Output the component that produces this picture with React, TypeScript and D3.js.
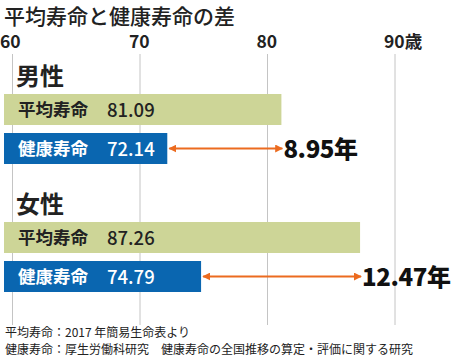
import React from "react";
import * as d3 from "d3";

const groups = ["男性", "女性"];
const avgLife = [81.09, 87.26];
const healthyLife = [72.14, 74.79];
const gaps = ["8.95年", "12.47年"];
const ticks = [60, 70, 80, 90];
const tickLabels = ["60", "70", "80", "90歳"];
const notes = [
  "平均寿命：2017 年簡易生命表より",
  "健康寿命：厚生労働科研究　健康寿命の全国推移の算定・評価に関する研究",
];

const W = 452;
const H = 362;
const FONT = "'Noto Sans CJK JP', 'Noto Sans', sans-serif";
const GREEN = "#cdd597";
const BLUE = "#0a66b0";
const ORANGE = "#ec6b1f";

export default function App() {
  const x = d3.scaleLinear().domain([60, 90]).range([12.5, 395]);
  const barLeft = 4;
  const groupTop = [94, 222];
  const barH = 31;
  const gap = 8;

  return (
    <svg width={W} height={H} style={{ position: "absolute", left: 0, top: 0, background: "#fff" }} fontFamily={FONT}>
      <defs>
        <marker id="ah" viewBox="0 0 10 10" refX="9" refY="5" markerWidth="4" markerHeight="4" orient="auto-start-reverse">
          <path d="M0,0 L10,5 L0,10 z" fill={ORANGE} />
        </marker>
      </defs>
      <text x={4} y={24} fontSize={21} fontWeight={500} fill="#222">平均寿命と健康寿命の差</text>

      {ticks.map((t, i) => (
        <g key={t}>
          <line x1={x(t)} x2={x(t)} y1={54} y2={325} stroke="#c4c4c4" strokeWidth={1} />
          <text x={i === 0 ? 0 : x(t) - 11} y={48} fontSize={17.5} fontWeight={700} fill="#222">{tickLabels[i]}</text>
        </g>
      ))}

      {groups.map((g, i) => {
        const top = groupTop[i];
        const y2 = top + barH + gap;
        const midY = y2 + barH / 2;
        return (
          <g key={g}>
            <text x={16} y={top - 9} fontSize={24} fontWeight={700} fill="#222">{g}</text>
            <rect x={barLeft} y={top} width={x(avgLife[i]) - barLeft} height={barH} fill={GREEN} />
            <text x={18} y={top + barH / 2 + 6.5} fontSize={17.5} fontWeight={700} fill="#222">平均寿命</text>
            <text x={107} y={top + barH / 2 + 7} fontSize={18.5} fontWeight={500} fill="#222">{avgLife[i].toFixed(2)}</text>
            <rect x={barLeft} y={y2} width={x(healthyLife[i]) - barLeft} height={barH} fill={BLUE} />
            <text x={18} y={midY + 6.5} fontSize={17.5} fontWeight={700} fill="#fff">健康寿命</text>
            <text x={107} y={midY + 7} fontSize={18.5} fontWeight={500} fill="#fff">{healthyLife[i].toFixed(2)}</text>
            <line x1={x(healthyLife[i]) + 2} x2={x(avgLife[i]) + 1} y1={midY} y2={midY} stroke={ORANGE} strokeWidth={2}
              markerStart="url(#ah)" markerEnd="url(#ah)" />
            <text x={x(avgLife[i]) + 2} y={midY + 9} fontSize={24} letterSpacing={-0.4} fontWeight={900} fill="#111">{gaps[i]}</text>
          </g>
        );
      })}

      {notes.map((n, i) => (
        <text key={i} x={5} y={337 + i * 17} fontSize={12} fill="#222">{n}</text>
      ))}
    </svg>
  );
}
